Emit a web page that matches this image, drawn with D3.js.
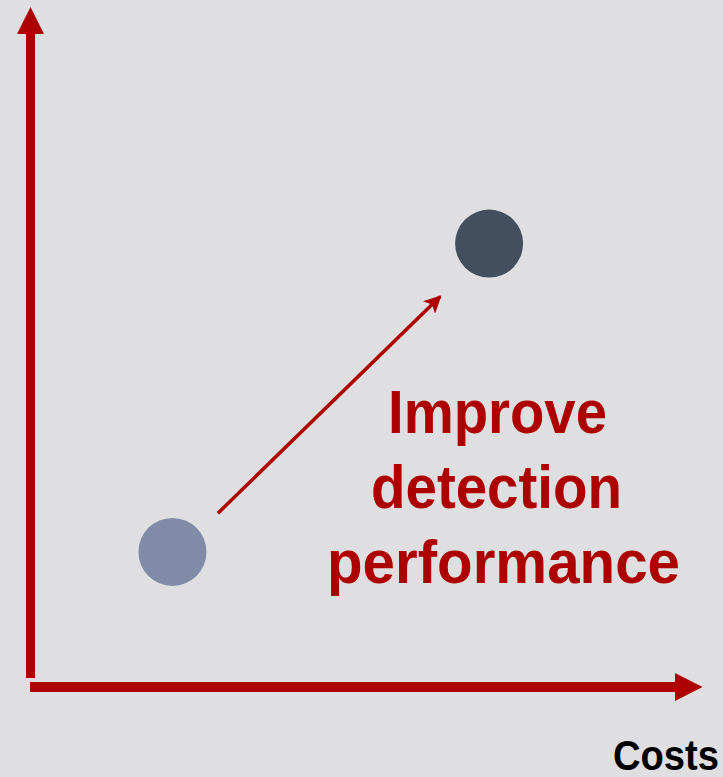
<!DOCTYPE html>
<html>
<head>
<meta charset="utf-8">
<script src="https://cdn.jsdelivr.net/npm/d3@7"></script>
<style>
  html, body { margin: 0; padding: 0; background: #dfdfe1; }
  svg { display: block; }
</style>
</head>
<body>
<svg id="chart" width="723" height="777"></svg>
<script>
// Positions on a 0–100 cost / performance plane
const pointNames = ["baseline", "improved"];
const pointCosts = [21.2, 68.5];
const pointPerformance = [19.9, 65.3];
const pointColors = ["#7f8ba7", "#434f5e"];

// Arrow showing the improvement step
const arrowFrom = [28.0, 25.6];
const arrowTo = [61.2, 57.5];

const annotationLines = ["Improve", "detection", "performance"];
const xAxisLabel = "Costs";

const W = 723, H = 777;
const red = "#ad0000";
const font = "'Liberation Sans', Arial, Helvetica, sans-serif";

const svg = d3.select("#chart");

const x = d3.scaleLinear().domain([0, 100]).range([30.5, 700]);
const y = d3.scaleLinear().domain([0, 100]).range([687, 8]);

// Background
svg.append("rect").attr("width", W).attr("height", H).attr("fill", "#dfdfe1");

// Vertical axis with arrowhead
const axisW = 9;
svg.append("rect")
  .attr("x", x(0) - axisW / 2).attr("y", 33)
  .attr("width", axisW).attr("height", 678 - 33)
  .attr("fill", red);
svg.append("path")
  .attr("d", d3.line()([[x(0) - 13.5, 34], [x(0) + 13.5, 34], [x(0), 7]]) + "Z")
  .attr("fill", red);

// Horizontal axis with arrowhead
svg.append("rect")
  .attr("x", 30).attr("y", y(0) - 5)
  .attr("width", 676 - 30).attr("height", 10)
  .attr("fill", red);
svg.append("path")
  .attr("d", d3.line()([[675, y(0) - 14], [675, y(0) + 14], [702.5, y(0)]]) + "Z")
  .attr("fill", red);

// Improvement arrow
svg.append("defs").append("marker")
  .attr("id", "head")
  .attr("viewBox", "0 0 10 10")
  .attr("refX", 9).attr("refY", 5)
  .attr("markerWidth", 5).attr("markerHeight", 5)
  .attr("markerUnits", "strokeWidth")
  .attr("orient", "auto")
  .append("path")
  .attr("d", "M0,0 L10,5 L0,10 L2.5,5 Z")
  .attr("fill", red);

svg.append("line")
  .attr("x1", x(arrowFrom[0])).attr("y1", y(arrowFrom[1]))
  .attr("x2", x(arrowTo[0])).attr("y2", y(arrowTo[1]))
  .attr("stroke", red)
  .attr("stroke-width", 3.5)
  .attr("marker-end", "url(#head)");

// Points
const points = pointNames.map((n, i) => ({ name: n, c: pointCosts[i], p: pointPerformance[i], color: pointColors[i] }));
svg.selectAll("circle.pt")
  .data(points)
  .join("circle")
  .attr("class", "pt")
  .attr("cx", d => x(d.c))
  .attr("cy", d => y(d.p))
  .attr("r", 34)
  .attr("fill", d => d.color);

// Annotation text (slightly condensed bold face)
const lineStart = [388, 371, 327];
const lineWidth = [219, 251, 353];
const ann = svg.append("text")
  .attr("fill", red)
  .attr("font-family", font)
  .attr("font-weight", "bold")
  .attr("font-size", 62);
ann.selectAll("tspan")
  .data(annotationLines)
  .join("tspan")
  .attr("x", (d, i) => lineStart[i])
  .attr("y", (d, i) => 433 + i * 75)
  .attr("textLength", (d, i) => lineWidth[i])
  .attr("lengthAdjust", "spacingAndGlyphs")
  .text(d => d);

// Axis label
svg.append("text")
  .attr("x", 613)
  .attr("y", 770)
  .attr("fill", "#000")
  .attr("font-family", font)
  .attr("font-weight", "bold")
  .attr("font-size", 42)
  .attr("textLength", 106)
  .attr("lengthAdjust", "spacingAndGlyphs")
  .text(xAxisLabel);
</script>
</body>
</html>
